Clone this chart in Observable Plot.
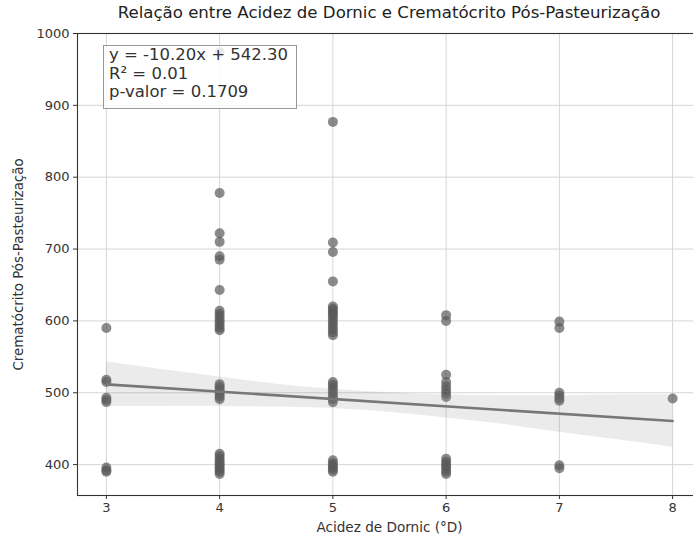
<!DOCTYPE html>
<html>
<head>
<meta charset="utf-8">
<script src="https://cdn.jsdelivr.net/npm/d3@7"></script>
<script src="https://cdn.jsdelivr.net/npm/@observablehq/plot@0.6"></script>
<style>
  html, body { margin: 0; padding: 0; background: #fff; overflow: hidden; }
  #wrap { position: relative; width: 693px; height: 540px; overflow: hidden; font-family: "DejaVu Sans", sans-serif; }
  #title { position: absolute; left: 0; top: 3px; width: 778px; text-align: center; font-size: 16.6px; color: #222; }
  #note { position: absolute; left: 103px; top: 45px; width: 187px; height: 62px; padding: 0 0 0 5px;
          border: 1.2px solid #999; background: rgba(255,255,255,0.82); font-size: 16.5px; line-height: 18.5px; color: #333; }
</style>
</head>
<body>
<div id="wrap">
  <div id="chart"></div>
  <div id="title">Relação entre Acidez de Dornic e Crematócrito Pós-Pasteurização</div>
  <div id="note"></div>
</div>
<script>
// Observed points (acidity °D, crematocrit)
const acidez = [
  3,3,3,3,3,3,3,3,3,
  4,4,4,4,4,4,4,4,4,4,4,4,4,4,4,4,4,4,4,4,4,4,4,4,4,4,4,4,4,4,4,4,4,
  5,5,5,5,5,5,5,5,5,5,5,5,5,5,5,5,5,5,5,5,5,5,5,5,5,5,5,5,5,5,
  6,6,6,6,6,6,6,6,6,6,6,6,6,6,6,
  7,7,7,7,7,7,7,7,
  8
];
const crematocrito = [
  590, 518, 515, 493, 490, 487, 396, 392, 390,
  974, 778, 722, 710, 690, 685, 643, 614, 610, 606, 602, 598, 594, 590, 587, 512, 509, 506, 503, 500, 497, 494, 491, 415, 412, 408, 405, 402, 399, 396, 393, 390, 387,
  877, 709, 696, 655, 620, 617, 614, 611, 608, 604, 600, 596, 592, 588, 584, 580, 515, 511, 507, 503, 499, 495, 491, 487, 406, 402, 399, 396, 393, 390,
  608, 600, 525, 515, 509, 504, 499, 494, 408, 404, 400, 397, 394, 390, 387,
  599, 590, 500, 496, 492, 489, 399, 395,
  492
];

// Fitted regression line and its confidence band
const fitX = [3, 8];
const fitY = [511.7, 460.7];
const bandX = [3, 3.5, 4, 4.5, 5, 5.5, 6, 6.5, 7, 7.5, 8];
const bandLo = [481, 481, 481, 480, 478, 473, 465, 456, 445, 435, 424];
const bandHi = [543, 532, 522, 512, 505, 500, 497, 496, 496, 497, 497];

// Ticks and labels
const xTicks = [3, 4, 5, 6, 7, 8];
const yTicks = [400, 500, 600, 700, 800, 900, 1000];
const noteLines = ["y = -10.20x + 542.30", "R² = 0.01", "p-valor = 0.1709"];

const points = acidez.map((x, i) => ({x, y: crematocrito[i]}));
const fit = fitX.map((x, i) => ({x, y: fitY[i]}));
const band = bandX.map((x, i) => ({x, lo: bandLo[i], hi: bandHi[i]}));

const chart = Plot.plot({
  width: 720,
  height: 540,
  marginLeft: 77,
  marginRight: 19,
  marginTop: 33,
  marginBottom: 45,
  style: "max-width:none; font-family:'DejaVu Sans', sans-serif; font-size:13px; color:#333; background:transparent; overflow:visible;",
  x: {domain: [2.745, 8.255]},
  y: {domain: [357, 1000]},
  marks: [
    Plot.gridX(xTicks, {stroke: "#d6d6d6", strokeOpacity: 1, strokeWidth: 1}),
    Plot.gridY(yTicks, {stroke: "#d6d6d6", strokeOpacity: 1, strokeWidth: 1}),
    Plot.dot(points, {x: "x", y: "y", r: 5, fill: "#5a5a5a", fillOpacity: 0.7, stroke: "none"}),
    Plot.areaY(band, {x: "x", y1: "lo", y2: "hi", fill: "#888", fillOpacity: 0.17, curve: "natural"}),
    Plot.line(fit, {x: "x", y: "y", stroke: "#777", strokeWidth: 2.6}),
    Plot.frame({stroke: "#333", strokeWidth: 1.1}),
    Plot.axisX({ticks: xTicks, tickFormat: d => String(d), tickSize: 4, tickPadding: 3, label: null, fontSize: 13}),
    Plot.axisX({ticks: [], label: "Acidez de Dornic (°D)", labelAnchor: "center", labelArrow: "none", labelOffset: 36, fontSize: 13.6}),
    Plot.axisY({ticks: yTicks, tickFormat: d => String(d), tickSize: 4, tickPadding: 4, label: null, fontSize: 13}),
    Plot.axisY({ticks: [], label: "Crematócrito Pós-Pasteurização", labelAnchor: "center", labelArrow: "none", labelOffset: 64, fontSize: 13.4})
  ]
});
document.getElementById("chart").appendChild(chart);
document.getElementById("note").innerHTML = noteLines.map(s => `<div>${s}</div>`).join("");
</script>
</body>
</html>
